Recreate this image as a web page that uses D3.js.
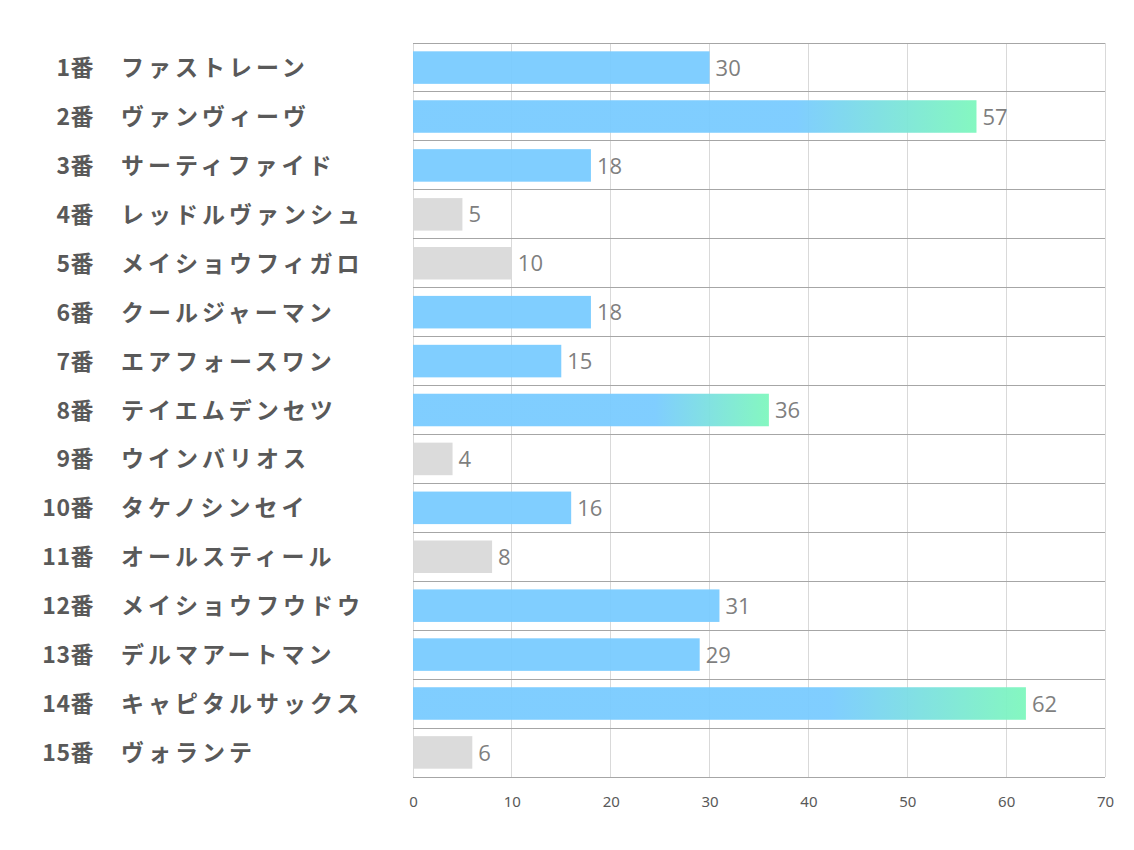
<!DOCTYPE html>
<html><head><meta charset="utf-8">
<script src="https://cdn.jsdelivr.net/npm/d3@7/dist/d3.min.js"></script>
<style>body{margin:0;background:#fff;}svg{display:block;}</style>
</head><body>
<svg id="c" width="1134" height="850"></svg>
<script>
const numbers = ["1番","2番","3番","4番","5番","6番","7番","8番","9番","10番","11番","12番","13番","14番","15番"];
const names = ["ファストレーン","ヴァンヴィーヴ","サーティファイド","レッドルヴァンシュ","メイショウフィガロ","クールジャーマン","エアフォースワン","テイエムデンセツ","ウインバリオス","タケノシンセイ","オールスティール","メイショウフウドウ","デルマアートマン","キャピタルサックス","ヴォランテ"];
const values = [30,57,18,5,10,18,15,36,4,16,8,31,29,62,6];
const xTicks = [0,10,20,30,40,50,60,70];

(function(){
const svg = d3.select("#c");
const pl = 413, pr = 1105, pt = 43, pb = 777;
const x = d3.scaleLinear().domain([0,70]).range([pl,pr]);
const y = d3.scaleBand().domain(d3.range(values.length)).range([pt,pb]).paddingInner(0.335).paddingOuter(0.17);
const yRow = d3.scaleBand().domain(d3.range(values.length)).range([pt,pb]);

const defs = svg.append("defs");
const grad = defs.append("linearGradient").attr("id","g").attr("x1","0").attr("x2","1").attr("y1","0").attr("y2","0");
grad.append("stop").attr("offset","0.68").attr("stop-color","#79cbff");
grad.append("stop").attr("offset","1").attr("stop-color","#7ef7bd");

svg.append("g").selectAll("line").data(xTicks).join("line")
  .attr("x1",d=>x(d)).attr("x2",d=>x(d)).attr("y1",pt).attr("y2",pb)
  .attr("stroke","#d9d9d9").attr("stroke-width",1).attr("shape-rendering","crispEdges");

svg.append("g").selectAll("rect").data(values).join("rect")
  .attr("x",x(0)).attr("y",(d,i)=>y(i)).attr("height",y.bandwidth())
  .attr("width",d=>x(d)-x(0))
  .attr("fill",d=> d<=10 ? "#d9d9d9" : (d>=35 ? "url(#g)" : "#79cbff"))
  .attr("fill-opacity",0.95);

const hl = d3.range(values.length+1).map(i=> i<values.length ? yRow(i) : pb);
svg.append("g").selectAll("line").data(hl).join("line")
  .attr("x1",pl).attr("x2",pr).attr("y1",d=>d).attr("y2",d=>d)
  .attr("stroke","#a6a6a6").attr("stroke-width",1).attr("shape-rendering","crispEdges");

svg.append("g").selectAll("text").data(values).join("text")
  .attr("x",d=>x(d)+6).attr("y",(d,i)=>y(i)+y.bandwidth()/2)
  .attr("dy","0.37em").attr("fill","#7f7f7f")
  .style("font-family","'Open Sans','Noto Sans',sans-serif").style("font-size","22px")
  .text(d=>d);

const lab = svg.append("g");
lab.selectAll("text.n").data(numbers).join("text").attr("class","n")
  .attr("x",94).attr("y",(d,i)=>yRow(i)+yRow.bandwidth()/2).attr("dy","0.37em")
  .attr("text-anchor","end").attr("fill","#595959").attr("font-weight","bold")
  .style("font-family","'Noto Sans CJK JP',sans-serif").style("font-size","23px")
  .style("letter-spacing","0.5px")
  .text(d=>d);
lab.selectAll("text.m").data(names).join("text").attr("class","m")
  .attr("x",121).attr("y",(d,i)=>yRow(i)+yRow.bandwidth()/2).attr("dy","0.37em")
  .attr("fill","#595959").attr("font-weight","bold")
  .style("font-family","'Noto Sans CJK JP',sans-serif").style("font-size","23px")
  .style("letter-spacing","4px")
  .text(d=>d);

const ax = svg.append("g").attr("transform",`translate(0,${pb})`)
  .call(d3.axisBottom(x).tickValues(xTicks).tickSize(0).tickPadding(19));
ax.select(".domain").remove();
ax.selectAll("text").attr("fill","#595959")
  .style("font-family","'Noto Sans','Open Sans',sans-serif").style("font-size","15px");
})();
</script>
</body></html>
